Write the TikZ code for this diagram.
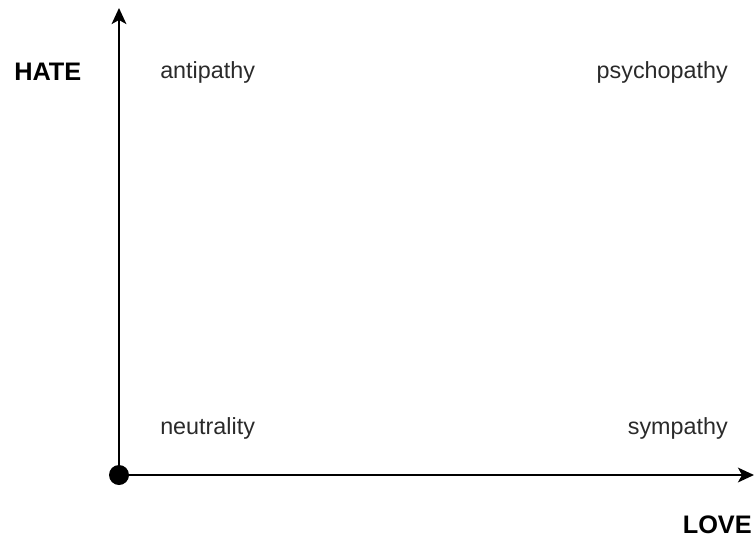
\documentclass[tikz,border=0pt]{standalone}
\usepackage{fontspec}
\setmainfont{Liberation Sans}
\usetikzlibrary{arrows.meta,positioning}
\definecolor{axisInk}{HTML}{000000}
\definecolor{quadInk}{HTML}{2A2A2A}
\tikzset{
  axisArrow/.style={-{Stealth[length=12pt,width=11pt,inset=3pt]}, line width=1.8pt, draw=axisInk},
  axisLabel/.style={font=\fontsize{19}{22}\selectfont\bfseries, text=axisInk, inner sep=0pt},
  quadLabel/.style={font=\fontsize{17.5}{20}\selectfont, text=quadInk, inner sep=0pt},
  originDot/.style={circle, fill=axisInk, minimum size=15pt, inner sep=0pt}
}
\begin{document}
\begin{tikzpicture}[x=0.75pt, y=-0.75pt]
    \useasboundingbox (0,0) rectangle (755,540);

    \node[originDot] (origin) at (119,475) {};
    \coordinate (ytip) at (119,8);
    \coordinate (xtip) at (754,475);

    \draw[axisArrow] (origin.center) -- (ytip);
    \draw[axisArrow] (origin.center) -- (xtip);

    \node[axisLabel, anchor=west] (hate) at (14,72) {HATE};
    \node[axisLabel, anchor=east] (love) at (752,525) {LOVE};

    \node[quadLabel, anchor=west] (antipathy) at (160,72) {antipathy};
    \node[quadLabel, anchor=east] (psychopathy) at (728,72) {psychopathy};
    \node[quadLabel, anchor=west] (neutrality) at (160,428) {neutrality};
    \node[quadLabel, anchor=east] (sympathy) at (728,428) {sympathy};
  \end{tikzpicture}
\end{document}
